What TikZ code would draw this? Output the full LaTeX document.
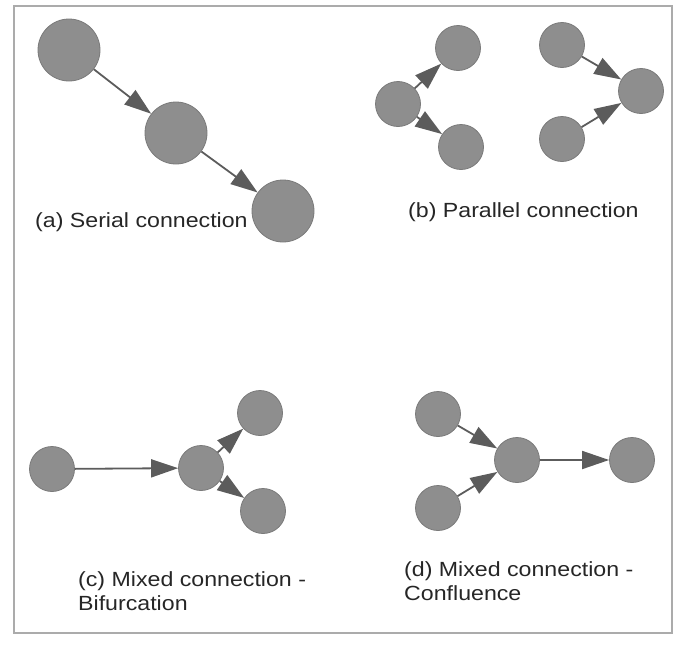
\documentclass[tikz,border=0pt]{standalone}
\usepackage{fontspec}
\setmainfont{Liberation Sans}
\newfontfamily\capfont[FakeStretch=1.13]{Liberation Sans}
\usetikzlibrary{arrows.meta}
\definecolor{nodefill}{HTML}{8E8E8E}
\definecolor{nodeline}{HTML}{7A7A7A}
\definecolor{arrowcol}{HTML}{5C5C5C}
\definecolor{framecol}{HTML}{ABABAB}
\begin{document}
\begin{tikzpicture}[x=1pt,y=-1pt,
  bignode/.style={circle,fill=nodefill,draw=nodeline,line width=0.8pt,minimum size=62pt,inner sep=0pt},
  smallnode/.style={circle,fill=nodefill,draw=nodeline,line width=0.8pt,minimum size=45pt,inner sep=0pt},
  conn/.style={draw=arrowcol,line width=1.8pt,-{Triangle[length=27pt,width=18pt]}},
  caption/.style={anchor=base west,inner sep=0pt,font=\capfont\fontsize{20.5pt}{24pt}\selectfont,text=black!85}]
\useasboundingbox (0,0) rectangle (682,645);
\draw[framecol,line width=1.5pt] (14,6) rectangle (672,633);
% (a)
\node[bignode] (a1) at (69,50) {};
\node[bignode] (a2) at (176,133) {};
\node[bignode] (a3) at (283,211) {};
\draw[conn] (a1) -- (a2);
\draw[conn] (a2) -- (a3);
\node[caption] (la) at (35,227) {(a) Serial connection};
% (b)
\node[smallnode] (b1) at (398,104) {};
\node[smallnode] (b2) at (458,48) {};
\node[smallnode] (b3) at (461,147) {};
\draw[conn] (b1) -- (b2);
\draw[conn] (b1) -- (b3);
\node[smallnode] (b4) at (562,45) {};
\node[smallnode] (b5) at (562,139) {};
\node[smallnode] (b6) at (641,91) {};
\draw[conn] (b4) -- (b6);
\draw[conn] (b5) -- (b6);
\node[caption] (lb) at (408,217) {(b) Parallel connection};
% (c)
\node[smallnode] (c1) at (52,469) {};
\node[smallnode] (c2) at (201,468) {};
\node[smallnode] (c3) at (260,413) {};
\node[smallnode] (c4) at (263,511) {};
\draw[conn] (c1) -- (c2);
\draw[conn] (c2) -- (c3);
\draw[conn] (c2) -- (c4);
\node[caption] (lc1) at (78,586) {(c) Mixed connection -};
\node[caption] (lc2) at (78,610) {Bifurcation};
% (d)
\node[smallnode] (d1) at (438,414) {};
\node[smallnode] (d2) at (438,508) {};
\node[smallnode] (d3) at (517,460) {};
\node[smallnode] (d4) at (632,460) {};
\draw[conn] (d1) -- (d3);
\draw[conn] (d2) -- (d3);
\draw[conn] (d3) -- (d4);
\node[caption] (ld1) at (404,576) {(d) Mixed connection -};
\node[caption] (ld2) at (404,600) {Confluence};
\end{tikzpicture}
\end{document}
